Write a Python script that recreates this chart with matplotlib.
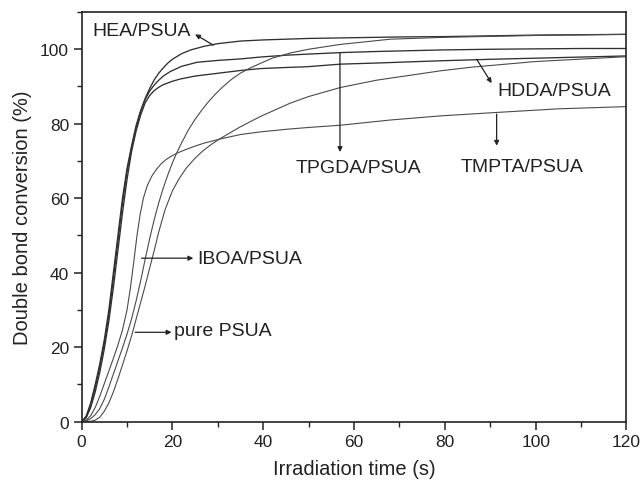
import matplotlib
matplotlib.use("Agg")
import matplotlib.pyplot as plt
from matplotlib.ticker import MultipleLocator

plt.rcParams['font.family'] = ['Liberation Sans', 'DejaVu Sans']

# ---- data ----
hea_t = [0, 1, 2, 3, 4, 5, 6, 7, 8, 9, 10, 11, 12, 13, 14, 15, 16, 17, 18, 19, 20, 22, 24, 27, 30, 35, 40, 50, 60, 70, 80, 90, 100, 110, 120]
hea_y = [0, 1.5, 5, 10, 15.5, 22, 30, 40, 50, 60, 68, 74, 79.5, 83.5, 86.8, 89.5, 91.8, 93.6, 95, 96.3, 97.3, 98.8, 99.8, 100.8, 101.5, 102.2, 102.5, 102.9, 103.1, 103.3, 103.4, 103.6, 103.8, 103.9, 104]

tpgda_t = [0, 1, 2, 3, 4, 5, 6, 7, 8, 9, 10, 11, 12, 13, 14, 15, 16, 17, 18, 19.5, 22, 25.4, 30, 35, 39.3, 45, 50, 57, 65, 79, 90, 100, 110, 120]
tpgda_y = [0, 1.2, 4.5, 9.2, 14.6, 21, 28.5, 38.5, 48.5, 58.5, 67, 73.5, 79, 83.3, 86.5, 88.8, 90.4, 91.7, 92.8, 94, 95.4, 96.5, 97, 97.4, 97.9, 98.4, 98.7, 99.1, 99.4, 99.8, 100, 100.1, 100.2, 100.2]

hdda_t = [0, 1, 2, 3, 4, 5, 6, 7, 8, 9, 10, 11, 12, 13, 14, 15, 16, 17, 18, 20, 21.7, 25, 29, 35, 39.3, 45, 49.6, 57, 65, 79, 90, 100, 110, 120]
hdda_y = [0, 1, 3.8, 8, 13.2, 19.5, 27, 36, 46, 56, 65, 72.5, 78, 82.3, 85.6, 87.6, 88.9, 89.8, 90.5, 91.4, 92, 92.8, 93.4, 94.3, 94.8, 95.1, 95.3, 96, 96.3, 96.9, 97.3, 97.6, 97.9, 98.2]

tmpta_t = [0, 1, 2, 3, 4, 5, 6, 7, 8, 9, 10, 10.7, 11.5, 12.2, 12.9, 13.6, 14.5, 15.5, 16.5, 17.5, 18.5, 19.5, 21, 23, 25, 27, 30.5, 35, 39.3, 45, 50, 57, 68, 79, 91, 105, 120]
tmpta_y = [0, 0.4, 1.6, 3.8, 6.8, 10.2, 13.6, 17, 20.6, 24.6, 30, 35.5, 43, 50, 55.7, 60, 63.5, 66, 67.8, 69.2, 70.3, 71.1, 72.1, 73.1, 74, 74.8, 75.9, 77.1, 77.8, 78.5, 79, 79.6, 81, 82.1, 83, 84, 84.6]

iboa_t = [0, 1, 2, 3, 4, 5, 6, 7, 8, 9, 10, 11, 12, 13, 14, 15, 16, 17, 18, 19, 20, 21, 22, 23.5, 25, 26.5, 28, 29.5, 31, 33, 35, 37, 39, 42, 46, 50, 57, 68, 80, 100, 120]
iboa_y = [0, 0.2, 0.8, 1.9, 3.5, 6, 9.3, 12.8, 16.3, 19.8, 23.5, 27.6, 32.4, 37.8, 43.6, 49.2, 54.3, 58.8, 62.8, 66.3, 69.5, 72.3, 74.8, 78.3, 81.2, 83.7, 86, 88, 89.8, 91.9, 93.6, 94.9, 96, 97.6, 99, 100, 101.3, 102.7, 103.2, 103.7, 104]

psua_t = [0, 2, 3, 4, 5, 6, 7, 8, 9, 10, 11, 12, 13, 14, 15, 16, 17, 18.4, 20, 21.5, 23, 24.8, 26.5, 28.5, 30.5, 35, 39.3, 45.9, 50, 56.9, 65, 79, 86, 100, 120]
psua_y = [0, 0.1, 0.4, 1.2, 2.8, 5, 8, 11.5, 15.2, 19, 23, 27.5, 32, 36.5, 41.3, 46, 51, 57, 62, 65.3, 68, 70.5, 72.5, 74.4, 76, 79.2, 81.9, 85.5, 87.3, 89.7, 91.7, 94.2, 95.2, 96.7, 98]

labels = ['HEA/PSUA', 'TPGDA/PSUA', 'HDDA/PSUA', 'TMPTA/PSUA', 'IBOA/PSUA', 'pure PSUA']
label_x = [2.3, 60.9, 104.0, 97.1, 25.4, 20.4]
label_y = [104.9, 68.3, 88.8, 68.5, 43.7, 24.4]
label_ha = ['left', 'center', 'center', 'center', 'left', 'left']
arrow_from = [(29.0, 101.1), (56.9, 99.0), (87.0, 97.3), (91.4, 82.6), (13.2, 43.9), (11.8, 24.0)]
arrow_to = [(25.0, 104.0), (56.9, 72.4), (90.3, 90.9), (91.4, 74.1), (24.6, 43.9), (19.8, 24.0)]

xticks = [0, 20, 40, 60, 80, 100, 120]
yticks = [0, 20, 40, 60, 80, 100]

# ---- figure ----
fig = plt.figure(figsize=(6.4, 4.85), dpi=100)
ax = fig.add_axes([0.1275, 0.1285, 0.8514, 0.8447])

series = [(hea_t, hea_y, '#303030', 0.95), (tpgda_t, tpgda_y, '#303030', 0.95),
          (hdda_t, hdda_y, '#303030', 0.95), (tmpta_t, tmpta_y, '#4a4a4a', 0.8),
          (iboa_t, iboa_y, '#4a4a4a', 0.8), (psua_t, psua_y, '#4a4a4a', 0.8)]
for t, y, c, lw in series:
    ax.plot(t, y, color=c, lw=lw, solid_joinstyle='round')

for lab, x, y, ha in zip(labels, label_x, label_y, label_ha):
    ax.text(x, y, lab, ha=ha, va='center', fontsize=14, color='#222222')

for (x0, y0), (x1, y1) in zip(arrow_from, arrow_to):
    ax.annotate('', xy=(x1, y1), xytext=(x0, y0),
                arrowprops=dict(arrowstyle='-|>', color='#222222', lw=0.9,
                                mutation_scale=7, shrinkA=0, shrinkB=0))

ax.set_xlim(0, 120)
ax.set_ylim(0, 110)
ax.set_xticks(xticks)
ax.set_yticks(yticks)
ax.xaxis.set_minor_locator(MultipleLocator(10))
ax.yaxis.set_minor_locator(MultipleLocator(10))
ax.tick_params(which='major', direction='out', length=6, width=1.1, labelsize=12.5,
               pad=3, colors='#222222', top=False, right=False)
ax.tick_params(which='minor', direction='out', length=3.5, width=1.0,
               top=False, right=False, colors='#222222')
for s in ax.spines.values():
    s.set_linewidth(1.2)
    s.set_color('#222222')

ax.set_xlabel('Irradiation time (s)', fontsize=14.5, color='#222222', labelpad=7)
ax.set_ylabel('Double bond conversion (%)', fontsize=14.5, color='#222222', labelpad=6)

fig.savefig('out.png', dpi=100)
